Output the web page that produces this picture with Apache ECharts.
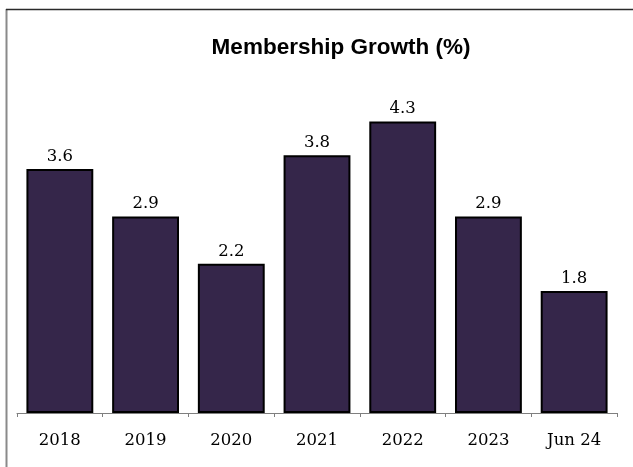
<!DOCTYPE html>
<html>
<head>
<meta charset="utf-8">
<script src="https://cdn.jsdelivr.net/npm/echarts@6/dist/echarts.min.js"></script>
<style>
  html, body { margin: 0; padding: 0; background: #fff; }
  #chart { width: 633px; height: 467px; }
</style>
</head>
<body>
<div id="chart"></div>
<script>
// Annual membership growth, percent
const categories = ['2018', '2019', '2020', '2021', '2022', '2023', 'Jun 24'];
const growth = [3.6, 2.9, 2.2, 3.8, 4.3, 2.9, 1.8];

const chart = echarts.init(document.getElementById('chart'));
const serif = '"DejaVu Serif", "Liberation Serif", serif';

chart.setOption({
  animation: false,
  backgroundColor: '#ffffff',
  title: {
    text: 'Membership Growth (%)',
    left: 336,
    textAlign: 'center',
    top: 31,
    textStyle: {
      fontFamily: '"Liberation Sans", Arial, sans-serif',
      fontWeight: 'bold',
      fontSize: 22.5,
      color: '#000'
    }
  },
  graphic: [
    { type: 'line', shape: { x1: 6.5, y1: 9, x2: 6.5, y2: 467 }, style: { stroke: '#8a8a8a', lineWidth: 2 } },
    { type: 'line', shape: { x1: 6, y1: 9.5, x2: 633, y2: 9.5 }, style: { stroke: '#2a2a2a', lineWidth: 1.5 } }
  ],
  grid: { left: 17, right: 16, top: 74, bottom: 54, containLabel: false },
  xAxis: {
    type: 'category',
    data: categories,
    boundaryGap: true,
    axisLine: { lineStyle: { color: '#7f7f7f', width: 1 } },
    axisTick: { show: true, alignWithLabel: false, length: 4, lineStyle: { color: '#7f7f7f' } },
    axisLabel: { fontFamily: serif, fontSize: 16.5, color: '#000', margin: 19 }
  },
  yAxis: {
    type: 'value',
    min: 0,
    max: 5,
    show: false,
    splitLine: { show: false }
  },
  series: [{
    type: 'bar',
    data: growth,
    barWidth: '78%',
    itemStyle: { color: '#35264a', borderColor: '#000', borderWidth: 2 },
    label: {
      show: true,
      position: 'top',
      distance: 4,
      fontFamily: serif,
      fontSize: 16.5,
      color: '#000',
      formatter: p => p.value.toFixed(1)
    }
  }]
});
</script>
</body>
</html>
